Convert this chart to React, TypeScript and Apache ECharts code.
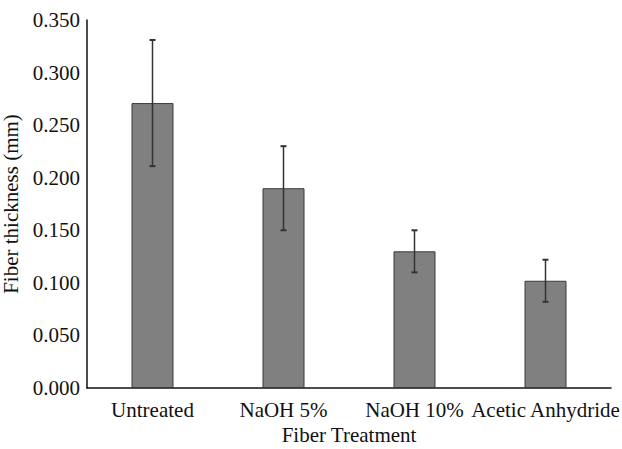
import React, { useEffect, useRef } from "react";
import * as echarts from "echarts";

const categories = ["Untreated", "NaOH 5%", "NaOH 10%", "Acetic Anhydride"];
const means = [0.271, 0.19, 0.13, 0.102];
const errors = [0.06, 0.04, 0.02, 0.02];
const yTicks = { min: 0, max: 0.35, interval: 0.05 };

const FONT = "'Liberation Serif', 'Times New Roman', serif";

export default function App() {
  const ref = useRef<HTMLDivElement>(null);
  useEffect(() => {
    if (!ref.current) return;
    const chart = echarts.init(ref.current, undefined, { renderer: "svg" });
    const errData = categories.map((c, i) => [i, means[i] - errors[i], means[i] + errors[i]]);
    chart.setOption({
      animation: false,
      backgroundColor: "#ffffff",
      grid: { left: 87, right: 11, top: 20, bottom: 61, outerBoundsMode: "none", containLabel: false },
      xAxis: {
        type: "category",
        data: categories,
        name: "Fiber Treatment",
        nameLocation: "middle",
        nameGap: 36,
        nameTextStyle: { fontFamily: FONT, fontSize: 21, color: "#111" },
        axisLine: { lineStyle: { color: "#111", width: 1.5 } },
        axisTick: { show: false },
        axisLabel: { fontFamily: FONT, fontSize: 21, color: "#111", margin: 11, interval: 0 },
      },
      yAxis: {
        type: "value",
        min: yTicks.min,
        max: yTicks.max,
        interval: yTicks.interval,
        name: "Fiber thickness (mm)",
        nameLocation: "middle",
        nameGap: 64,
        nameTextStyle: { fontFamily: FONT, fontSize: 21, color: "#111" },
        axisLine: { show: true, lineStyle: { color: "#111", width: 1.5 } },
        axisTick: { show: false },
        splitLine: { show: false },
        axisLabel: {
          fontFamily: FONT,
          fontSize: 21,
          color: "#111",
          margin: 7,
          formatter: (v: number) => v.toFixed(3),
        },
      },
      series: [
        {
          type: "bar",
          data: means,
          barWidth: 42,
          itemStyle: { color: "#808080", borderColor: "#3a3a3a", borderWidth: 1 },
        },
        {
          type: "custom",
          data: errData,
          z: 10,
          renderItem: (params: any, api: any) => {
            const x = api.value(0);
            const lo = api.coord([x, api.value(1)]);
            const hi = api.coord([x, api.value(2)]);
            const cap = 3;
            const style = { stroke: "#333", lineWidth: 1.5 };
            return {
              type: "group",
              children: [
                { type: "line", shape: { x1: hi[0], y1: hi[1], x2: lo[0], y2: lo[1] }, style },
                { type: "line", shape: { x1: hi[0] - cap, y1: hi[1], x2: hi[0] + cap, y2: hi[1] }, style: { stroke: "#333", lineWidth: 2 } },
                { type: "line", shape: { x1: lo[0] - cap, y1: lo[1], x2: lo[0] + cap, y2: lo[1] }, style: { stroke: "#333", lineWidth: 2 } },
              ],
            };
          },
        },
      ],
    });
    return () => chart.dispose();
  }, []);
  return (
    <div
      ref={ref}
      style={{ position: "absolute", left: 0, top: 0, width: 622, height: 449 }}
    />
  );
}
